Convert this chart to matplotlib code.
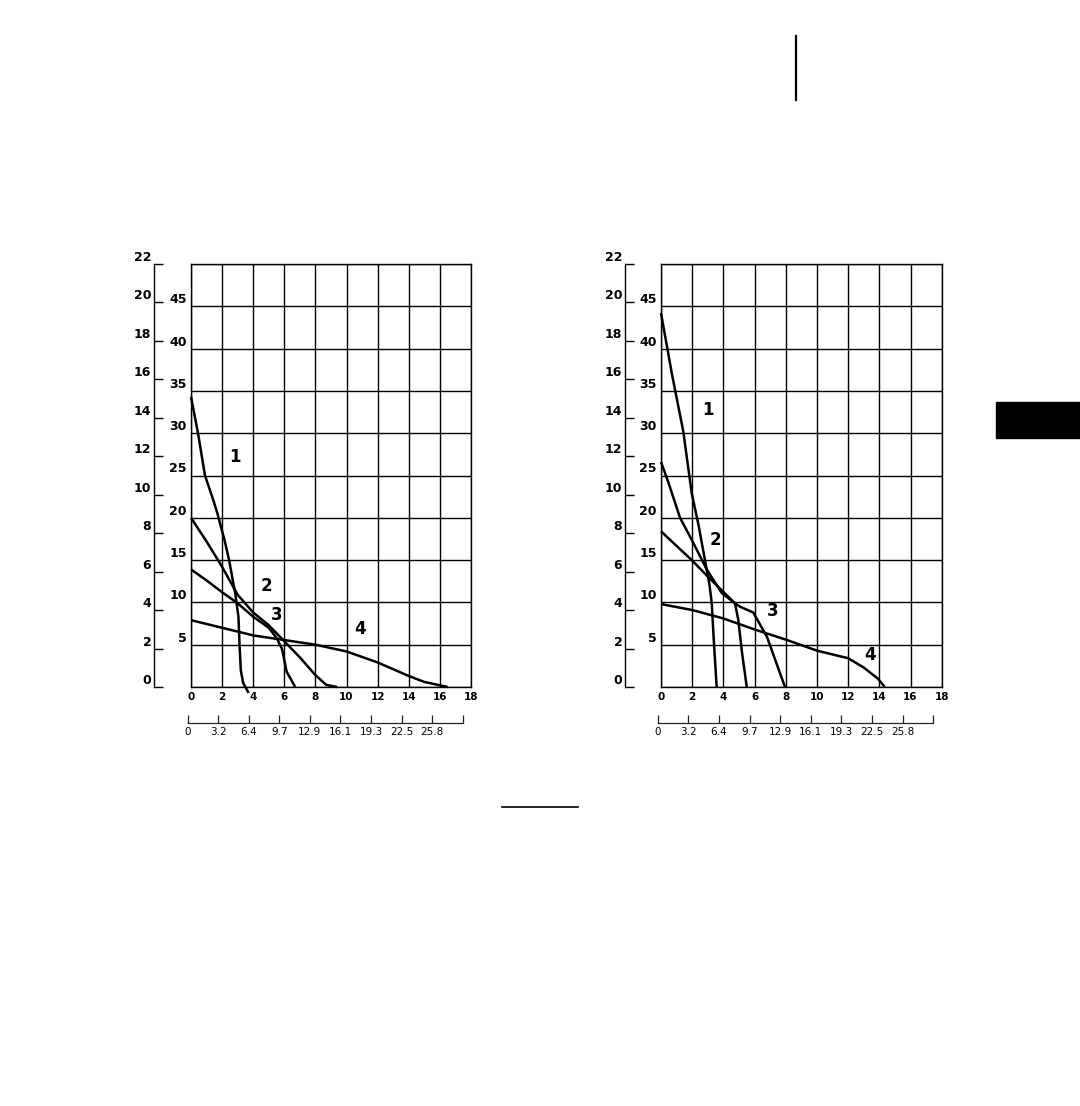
import matplotlib

matplotlib.use("Agg")
import matplotlib.pyplot as plt
from matplotlib.lines import Line2D
from matplotlib.patches import Rectangle

plt.rcParams["font.family"] = ["DejaVu Sans"]

W, H = 1080, 1106

# flow on the upper scale (0-18) against head in feet (0-50)
left_c1_x = [0, 0.45, 0.9, 1.45, 1.7, 2.15, 2.45, 2.85, 3.05, 3.12, 3.2, 3.35, 3.7]
left_c1_y = [34.3, 30.0, 25.0, 22.0, 20.5, 17.4, 15.0, 11.0, 8.3, 5.0, 2.0, 0.5, -0.7]
left_c2_x = [0, 1, 2, 3, 4, 5, 6, 7, 8, 8.7, 9.4]
left_c2_y = [20.0, 17.2, 14.2, 10.9, 8.8, 7.3, 5.4, 3.5, 1.4, 0.25, 0]
left_c3_x = [0, 1, 2, 3, 4, 5, 5.5, 5.85, 6.15, 6.7]
left_c3_y = [13.9, 12.6, 11.2, 9.9, 8.3, 7.0, 5.8, 4.5, 1.8, 0]
left_c4_x = [0, 2, 4, 6, 8, 10, 12, 14, 15, 16.5]
left_c4_y = [7.9, 7.0, 6.1, 5.55, 5.0, 4.2, 2.9, 1.3, 0.6, 0]

right_c1_x = [0, 0.7, 1.43, 1.97, 2.4, 2.82, 3.1, 3.25, 3.4, 3.57]
right_c1_y = [44.2, 37.0, 30.2, 22.9, 19.2, 15.0, 12.2, 10.0, 5.0, 0]
right_c2_x = [0, 0.47, 1.22, 1.97, 2.93, 3.9, 4.74, 4.95, 5.2, 5.5]
right_c2_y = [26.6, 24.2, 20.0, 17.4, 13.9, 11.1, 9.9, 8.0, 4.0, 0]
right_c3_x = [0, 1.97, 3.03, 4.74, 5.06, 5.92, 6.8, 7.95]
right_c3_y = [18.4, 15.0, 13.0, 9.9, 9.5, 8.8, 5.9, 0]
right_c4_x = [0, 2, 4, 6, 8, 10, 12, 13, 13.9, 14.35]
right_c4_y = [9.8, 9.1, 8.1, 6.8, 5.6, 4.3, 3.4, 2.3, 1.0, 0]

curve_names = ["1", "2", "3", "4"]
flow_ticks = list(range(0, 19, 2))
ft_ticks = list(range(0, 51, 5))
psi_ticks = list(range(0, 23, 2))
km_labels = ["0", "3.2", "6.4", "9.7", "12.9", "16.1", "19.3", "22.5", "25.8", ""]

FT_PER_PSI = 50 / 22


def fig_rect(x0, y0, x1, y1):
    return [x0 / W, 1 - y1 / H, (x1 - x0) / W, (y1 - y0) / H]


def draw_panel(fig, rect, km_rect, outer_loc, curves, label_pos):
    ax = fig.add_axes(rect)
    ax.set_xlim(0, 18)
    ax.set_ylim(0, 50)
    ax.set_xticks(flow_ticks)
    ax.set_yticks(ft_ticks)
    ax.set_yticklabels(["" if v in (0, 50) else str(v) for v in ft_ticks])
    ax.grid(True, color="black", linewidth=1.0)
    ax.tick_params(length=0, labelsize=7.5, pad=3.5)
    ax.tick_params(axis="y", labelsize=9, pad=3)
    for lbl in ax.get_xticklabels():
        lbl.set_fontweight("bold")
    for lbl in ax.get_yticklabels():
        lbl.set_fontweight("bold")
        lbl.set_verticalalignment("bottom")
    for sp in ax.spines.values():
        sp.set_linewidth(1.0)

    for (xs, ys), name, (lx, ly) in zip(curves, curve_names, label_pos):
        ax.plot(xs, ys, color="black", linewidth=1.8, clip_on=False,
                solid_joinstyle="round", solid_capstyle="butt")
        ax.text(lx, ly, name, fontsize=12, fontweight="bold",
                ha="center", va="center")

    # pressure scale in psi
    sec = ax.secondary_yaxis(outer_loc, functions=(lambda ft: ft / FT_PER_PSI,
                                                   lambda psi: psi * FT_PER_PSI))
    sec.set_yticks(psi_ticks)
    sec.tick_params(direction="in", length=6.5, width=1.0, labelsize=9, pad=2)
    sec.spines["left"].set_linewidth(1.0)
    for lbl in sec.get_yticklabels():
        lbl.set_fontweight("bold")
        lbl.set_verticalalignment("bottom")

    # metric flow scale under the chart
    kax = fig.add_axes(km_rect)
    kax.set_xlim(0, 18)
    kax.set_yticks([])
    kax.set_xticks(flow_ticks)
    kax.set_xticklabels(km_labels)
    kax.tick_params(axis="x", direction="in", length=6, width=0.9,
                    labelsize=7.5, pad=2.5, color="#222222")
    for side in ("left", "right", "top"):
        kax.spines[side].set_visible(False)
    kax.spines["bottom"].set_linewidth(0.9)
    kax.spines["bottom"].set_color("#222222")
    kax.patch.set_visible(False)
    return ax


fig = plt.figure(figsize=(W / 100, H / 100), dpi=100)

draw_panel(
    fig,
    fig_rect(191, 264, 471, 687),
    fig_rect(187.7, 723.3, 462.7, 723.3 + 0.01),
    -0.132,
    [(left_c1_x, left_c1_y), (left_c2_x, left_c2_y),
     (left_c3_x, left_c3_y), (left_c4_x, left_c4_y)],
    [(2.83, 27.2), (4.87, 11.9), (5.51, 8.5), (10.9, 6.9)],
)
draw_panel(
    fig,
    fig_rect(661, 264, 941.7, 687),
    fig_rect(657.7, 723.3, 933.3, 723.3 + 0.01),
    -0.128,
    [(right_c1_x, right_c1_y), (right_c2_x, right_c2_y),
     (right_c3_x, right_c3_y), (right_c4_x, right_c4_y)],
    [(3.03, 32.7), (3.46, 17.4), (7.16, 9.0), (13.4, 3.8)],
)

# page furniture from the scanned book page
fig.add_artist(Line2D([796 / W, 796 / W], [1 - 36 / H, 1 - 100 / H],
                      color="black", linewidth=1.6))
fig.add_artist(Line2D([501.7 / W, 577.7 / W], [1 - 807 / H, 1 - 807 / H],
                      color="black", linewidth=1.2))
fig.add_artist(Rectangle((996 / W, 1 - 438 / H), 84 / W, 36 / H,
                         transform=fig.transFigure, color="black"))

fig.savefig("out.png", dpi=100)
